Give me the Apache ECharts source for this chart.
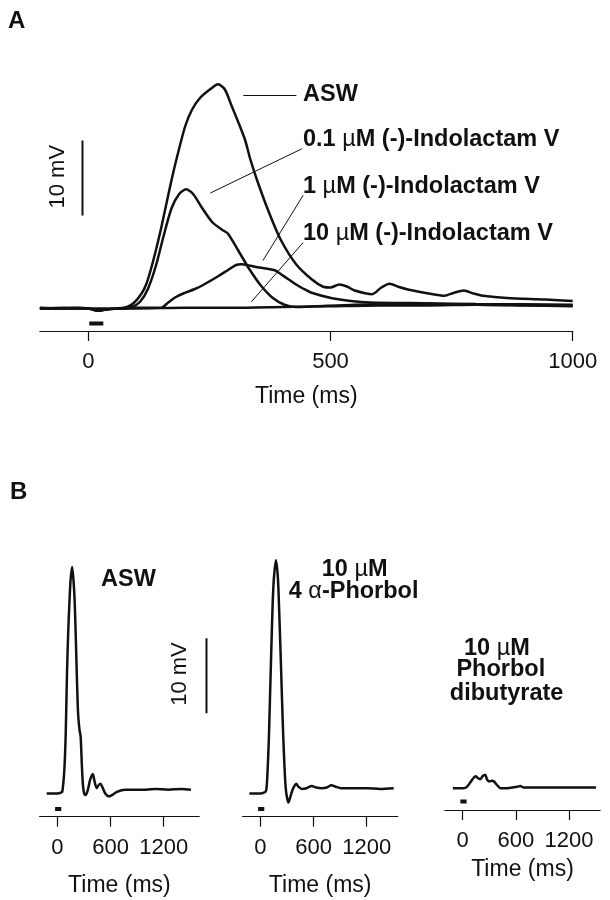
<!DOCTYPE html>
<html>
<head>
<meta charset="utf-8">
<script src="https://cdn.jsdelivr.net/npm/echarts@6/dist/echarts.min.js"></script>
<style>
html,body{margin:0;padding:0;background:#fff;}
#c{width:610px;height:900px;}
</style>
</head>
<body>
<div id="c"></div>
<script>
// ---------- DATA ----------
const timeTicksA = [0, 500, 1000];
const timeTicksB = [0, 600, 1200];

// Panel A traces: [time ms, mV]
const aswA = [[-100,0.1],[-60,0.0],[-20,0.1],[0,0],[20,-0.3],[40,-0.1],[60,0],[80,0.2],[95,0.8],[110,2.0],[120,3.3],[130,5.4],[140,7.9],[150,10.6],[160,13.6],[170,16.6],[182,19.9],[200,24.3],[214,26.5],[231,28.1],[251,29.2],[268,29.9],[282,29.2],[296,27],[313,24.3],[324,22.4],[334,20],[349,17],[373,12.8],[397,9.2],[429,5.9],[461,3.9],[485,2.9],[500,2.8],[518,3.2],[535,2.9],[550,2.4],[586,1.9],[605,2.8],[622,3.3],[640,2.9],[662,2.5],[703,2.0],[735,1.7],[755,2.1],[775,2.4],[795,2.0],[815,1.7],[864,1.4],[944,1.2],[1000,1.0]];
const ind01A = [[-100,0],[-50,0.1],[0,0],[20,-0.3],[40,-0.1],[70,0],[90,0.2],[107,0.9],[123,2.6],[140,5.8],[156,9.8],[172,13.4],[188,15.3],[202,15.9],[216,15.3],[236,13.3],[256,11.5],[276,10.5],[288,10.0],[308,7.9],[333,5.2],[357,3.0],[381,1.4],[405,0.5],[429,0.2],[470,0.3],[550,0.5],[650,0.6],[800,0.5],[1000,0.4]];
const ind1A = [[-100,0],[0,0],[20,-0.2],[60,0],[100,0.1],[150,0.1],[165,0.8],[180,1.5],[196,2.0],[220,2.6],[236,3.1],[268,4.3],[290,5.2],[305,5.8],[316,5.9],[335,5.7],[349,5.5],[370,5.3],[385,5.1],[397,4.6],[413,3.9],[429,3.2],[445,2.6],[461,2.1],[501,1.4],[542,1.0],[582,0.8],[700,0.7],[800,0.6],[1000,0.5]];
const ind10A = [[-100,0],[0,0],[100,0],[200,0.1],[300,0.1],[400,0.2],[500,0.3],[600,0.4],[700,0.4],[800,0.5],[900,0.4],[1000,0.3]];

// Panel B traces
const aswB = [[-120,0],[-50,0],[0,0],[40,0.1],[57,0.3],[79,3.1],[95,8],[110,16.4],[123,21.5],[136,25.3],[150,28.5],[167,30.2],[182,28.5],[197,25.3],[215,18],[233,11],[250,8.5],[263,7.6],[278,3.5],[290,1.0],[305,-0.1],[321,-0.2],[345,0.5],[370,1.8],[400,2.6],[420,1.6],[444,0.7],[465,1.1],[487,1.3],[510,0.8],[540,0.0],[584,-0.4],[620,-0.2],[672,0.2],[760,0.5],[900,0.5],[1000,0.5],[1111,0.6],[1250,0.5],[1400,0.6],[1507,0.5]];
const phorbol4aB = [[-123,0],[-50,0],[0,0],[40,0.1],[66,0.4],[80,2.5],[97,7.5],[112,14],[128,20.8],[140,25.5],[154,28.8],[176,31.1],[198,28.8],[214,24],[229,18.6],[245,12.5],[259,7.5],[273,3.5],[286,0.8],[300,-0.5],[317,-1.2],[335,-0.6],[361,0.4],[385,1.0],[405,1.3],[430,0.9],[470,0.6],[520,0.7],[580,1.0],[630,0.8],[690,0.7],[750,0.8],[800,1.1],[850,0.9],[910,0.7],[1000,0.7],[1200,0.7],[1350,0.6],[1504,0.7]];
const pdbuB = [[-110,0],[-50,0],[0,0],[38,0.1],[70,0.5],[100,1.0],[125,1.4],[145,1.6],[170,1.4],[198,1.2],[225,1.6],[254,1.8],[275,1.2],[300,0.9],[330,1.0],[355,0.9],[390,0.4],[429,0.0],[480,0.0],[560,0.1],[620,0.2],[650,0.3],[690,0.1],[800,0.1],[1000,0.1],[1200,0.1],[1504,0.1]];

// stimulus bars, scale bars (10 mV) and label leader lines
const stimA = [[2,-2.0],[31,-2.0]];
const stimB1 = [[-25,-2.07],[45,-2.07]];
const stimB2 = [[-25,-2.07],[45,-2.07]];
const stimB3 = [[-25,-1.77],[45,-1.77]];
const scaleBarA = [[-12,12.4],[-12,22.4]];
const scaleBarB = [[1682,10.7],[1682,20.7]];
const leaderASW = [[320,28.4],[429.6,28.4]];
const leader01 = [[252,15.4],[441,21.3]];
const leader1 = [[360.6,6.4],[443.6,15.1]];
const leader10 = [[336.7,0.9],[443.6,8.8]];

// ---------- CHART ----------
const FF = "'Liberation Sans', Arial, Helvetica, sans-serif";
const INK = '#111';
const chart = echarts.init(document.getElementById('c'), null, {renderer:'canvas'});

function xAx(gi, min, max, ticks, margin, nameGap) {
  return {
    type:'value', gridIndex:gi, min:min, max:max,
    name:'Time (ms)', nameLocation:'middle', nameGap:nameGap,
    nameTextStyle:{fontSize:23, color:INK, fontFamily:FF},
    axisLine:{show:true, onZero:false, lineStyle:{color:INK, width:1.2}},
    axisTick:{show:true, inside:false, length:10, customValues:ticks, lineStyle:{color:INK, width:1.2}},
    axisLabel:{show:true, customValues:ticks, fontSize:22, color:INK, fontFamily:FF, margin:margin,
      formatter:function(v){return String(v);}},
    splitLine:{show:false}
  };
}
function yAx(gi, min, max) {
  return {type:'value', gridIndex:gi, min:min, max:max, show:false, splitLine:{show:false}};
}
function trace(gi, data, w) {
  return {type:'line', xAxisIndex:gi, yAxisIndex:gi, data:data, showSymbol:false, symbol:'none',
    smooth:0.25, lineStyle:{color:INK, width:w||2.5}, silent:true};
}
function seg(gi, data, w) {
  return {type:'line', xAxisIndex:gi, yAxisIndex:gi, data:data, showSymbol:false, symbol:'none',
    lineStyle:{color:INK, width:w, cap:'butt'}, silent:true};
}
function txt(x, y, text, opts) {
  opts = opts || {};
  const fs = opts.fs || 23.5;
  return {type:'text', x:x, y:y, rotation:opts.rot||0, silent:true,
    style:{text:text, fill:INK, align:opts.align||'left', verticalAlign:'middle',
      fontFamily:FF, fontSize:fs, fontWeight:opts.bold?'bold':'normal',
      rich:{
        b:{fontFamily:FF, fontSize:fs, fontWeight:'bold', fill:INK},
        m:{fontFamily:FF, fontSize:fs, fontWeight:'normal', fill:INK}
      }}};
}

const option = {
  animation:false,
  backgroundColor:'#fff',
  grid:[
    {left:39.86, top:68.5, width:532.84, height:262.5, containLabel:false, outerBoundsMode:'none'},
    {left:39.56, top:538.45, width:159.66, height:278.25, containLabel:false, outerBoundsMode:'none'},
    {left:242.56, top:538.45, width:155.23, height:278.25, containLabel:false, outerBoundsMode:'none'},
    {left:444.86, top:713.25, width:155.23, height:96.75, containLabel:false, outerBoundsMode:'none'},
    // continuation of panel B1's time scale, carries only the 10 mV scale bar
    {left:199.22, top:538.45, width:17.74, height:278.25, containLabel:false, outerBoundsMode:'none'}
  ],
  xAxis:[
    xAx(0, -100, 1000, timeTicksA, 20, 54),
    xAx(1, -200, 1600, timeTicksB, 20, 57),
    xAx(2, -200, 1550, timeTicksB, 20, 57),
    xAx(3, -200, 1550, timeTicksB, 20, 48),
    {type:'value', gridIndex:4, min:1600, max:1800, show:false}
  ],
  yAxis:[ yAx(0,-3,32), yAx(1,-3.1,34), yAx(2,-3.1,34), yAx(3,-2.9,10), yAx(4,-3.1,34) ],
  series:[
    trace(0, ind10A), trace(0, ind1A), trace(0, ind01A), trace(0, aswA),
    seg(0, stimA, 4), seg(0, scaleBarA, 2),
    seg(0, leaderASW, 1), seg(0, leader01, 1), seg(0, leader1, 1), seg(0, leader10, 1),
    trace(1, aswB), seg(1, stimB1, 4),
    trace(2, phorbol4aB), seg(2, stimB2, 4),
    trace(3, pdbuB), seg(3, stimB3, 4),
    seg(4, scaleBarB, 2)
  ],
  graphic:[
    txt(8, 21, 'A', {bold:true, fs:24}),
    txt(10, 492, 'B', {bold:true, fs:24}),
    txt(58.3, 176.7, '10 mV', {rot:Math.PI/2, align:'center', fs:22}),
    txt(180, 674, '10 mV', {rot:Math.PI/2, align:'center', fs:22}),
    txt(303, 95, '{b|ASW}'),
    txt(303, 140, '{b|0.1 }{m|\u00b5}{b|M (-)-Indolactam V}'),
    txt(303, 186.7, '{b|1 }{m|\u00b5}{b|M (-)-Indolactam V}'),
    txt(303, 233.3, '{b|10 }{m|\u00b5}{b|M (-)-Indolactam V}'),
    txt(101, 580, '{b|ASW}'),
    txt(354.6, 570, '{b|10 }{m|\u00b5}{b|M}', {align:'center'}),
    txt(353.6, 591.7, '{b|4 }{m|\u03b1}{b|-Phorbol}', {align:'center'}),
    txt(496.9, 648.3, '{b|10 }{m|\u00b5}{b|M}', {align:'center'}),
    txt(500.8, 670, '{b|Phorbol}', {align:'center'}),
    txt(506.6, 693.3, '{b|dibutyrate}', {align:'center'})
  ]
};
chart.setOption(option);
</script>
</body>
</html>
